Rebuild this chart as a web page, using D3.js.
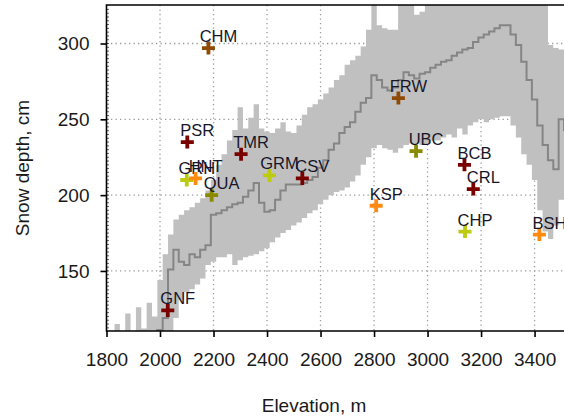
<!DOCTYPE html>
<html lang="en">
<head>
<meta charset="UTF-8">
<title>Snow depth vs elevation</title>
<style>
  body { margin: 0; background: #fff; }
  svg { display: block; font-family: Arial, "Liberation Sans", sans-serif; }
</style>
</head>
<body>
<svg width="564" height="420"></svg>
<script src="https://d3js.org/d3.v7.min.js"></script>
<script>
// elevation bands (m) and snow depth statistics (cm)
var elevation = [1820, 1840, 1860, 1880, 1900, 1920, 1940, 1960, 1980, 2000,
    2020, 2040, 2060, 2080, 2100, 2120, 2140, 2160, 2180, 2200,
    2220, 2240, 2260, 2280, 2300, 2320, 2340, 2360, 2380, 2400,
    2420, 2440, 2460, 2480, 2500, 2520, 2540, 2560, 2580, 2600,
    2620, 2640, 2660, 2680, 2700, 2720, 2740, 2760, 2780, 2800,
    2820, 2840, 2860, 2880, 2900, 2920, 2940, 2960, 2980, 3000,
    3020, 3040, 3060, 3080, 3100, 3120, 3140, 3160, 3180, 3200,
    3220, 3240, 3260, 3280, 3300, 3320, 3340, 3360, 3380, 3400,
    3420, 3440, 3460, 3480, 3500, 3520];

var depthMax = [108, 115, 108, 122, 110, 126, 112, 129, 120, 144,
    161, 174, 184, 187, 190, 192, 195, 198, 203, 210,
    220, 227, 236, 243, 258, 244, 251, 260, 244, 242,
    241, 244, 248, 242, 241, 246, 253, 258, 260, 263,
    267, 271, 276, 279, 286, 289, 292, 298, 309, 335,
    312, 310, 309, 309, 335, 335, 326, 319, 321, 335,
    335, 335, 335, 335, 335, 335, 335, 335, 335, 335,
    335, 335, 335, 335, 335, 335, 335, 335, 335, 335,
    335, 335, 299, 297, 296, 296];

var depthMin = [100, 100, 100, 100, 100, 100, 100, 100, 100, 100,
    100, 108, 119, 131, 136, 138, 141, 145, 154, 156,
    159, 159, 161, 154, 157, 159, 160, 161, 163, 165,
    169, 172, 175, 177, 180, 182, 185, 188, 190, 194,
    197, 200, 202, 203, 205, 209, 213, 220, 225, 231,
    233, 231, 230, 228, 231, 233, 234, 234, 233, 234,
    236, 236, 238, 240, 238, 244, 240, 246, 248, 250,
    248, 250, 251, 252, 252, 246, 238, 227, 220, 210,
    190, 176, 171, 180, 197, 197];

var depthMedian = [104, 104, 104, 104, 104, 104, 104, 104, 108, 111,
    119, 151, 164, 156, 154, 161, 159, 164, 167, 187,
    188, 190, 192, 194, 195, 199, 203, 208, 195, 189,
    190, 197, 203, 207, 207, 207, 208, 210, 212, 218,
    223, 230, 234, 241, 245, 248, 255, 261, 264, 279,
    276, 271, 269, 271, 276, 281, 279, 277, 280, 281,
    284, 286, 288, 289, 292, 294, 296, 297, 301, 304,
    306, 308, 310, 312, 312, 306, 299, 288, 276, 263,
    246, 233, 223, 217, 250, 243];

// snow survey sites
var stations = ["CHM", "PSR", "GRH", "HNT", "QUA", "TMR", "GRM", "CSV",
    "GNF", "FRW", "UBC", "KSP", "BCB", "CRL", "CHP", "BSH"];
var stationElev = [2181, 2102, 2100, 2133, 2193, 2303, 2409, 2532,
    2029, 2891, 2957, 2808, 3138, 3171, 3140, 3418];
var stationDepth = [297, 235, 210, 211, 200, 227, 213, 211,
    124, 264, 229, 193, 220, 204, 176, 174];
var stationGroup = ["b", "r", "y", "o", "g", "r", "y", "r",
    "r", "b", "g", "o", "r", "r", "y", "o"];

var xTicks = [1800, 2000, 2200, 2400, 2600, 2800, 3000, 3200, 3400];
var yTicks = [150, 200, 250, 300];

function drawChart() {
    var svg = d3.select("svg"),
        mLeft = 106.5, mTop = 5, mBottom = 331, mRight = 564;

    var x = d3.scaleLinear().domain([1800, 3510]).range([mLeft, mRight]);
    var y = d3.scaleLinear().domain([110.4, 325.4]).range([mBottom, mTop]);

    var color = d3.scaleOrdinal()
        .domain(["r", "b", "o", "y", "g"])
        .range(["#7a0000", "#8f4a06", "#ff8a12", "#bccb10", "#8a8a00"]);

    var band = elevation.map(function (e, i) {
        return { e: e, hi: depthMax[i], lo: depthMin[i], med: depthMedian[i] };
    });

    svg.append("clipPath").attr("id", "plot")
        .append("rect")
        .attr("x", mLeft).attr("y", mTop)
        .attr("width", mRight - mLeft).attr("height", mBottom - mTop);

    // dotted grid
    var grid = svg.append("g")
        .attr("stroke", "#9a9a9a")
        .attr("stroke-width", 1.3)
        .attr("stroke-dasharray", "1.3,3.2");

    grid.selectAll(".gx")
        .data(xTicks.slice(1)).enter()
        .append("line")
        .attr("x1", d => x(d)).attr("x2", d => x(d))
        .attr("y1", mTop).attr("y2", mBottom);

    grid.selectAll(".gy")
        .data(yTicks).enter()
        .append("line")
        .attr("x1", mLeft).attr("x2", mRight)
        .attr("y1", d => y(d)).attr("y2", d => y(d));

    var plot = svg.append("g").attr("clip-path", "url(#plot)");

    var area = d3.area()
        .curve(d3.curveStep)
        .x(d => x(d.e))
        .y0(d => y(d.lo))
        .y1(d => y(d.hi));

    plot.append("path")
        .datum(band)
        .attr("fill", "#c0c0c0")
        .attr("d", area);

    var line = d3.line()
        .curve(d3.curveStep)
        .x(d => x(d.e))
        .y(d => y(d.med));

    plot.append("path")
        .datum(band)
        .attr("fill", "none")
        .attr("stroke", "#858585")
        .attr("stroke-width", 2)
        .attr("d", line);

    // stations
    var site = svg.selectAll(".site")
        .data(stations).enter()
        .append("g")
        .attr("class", "site")
        .attr("transform", (d, i) => "translate(" + x(stationElev[i]) + "," + y(stationDepth[i]) + ")");

    site.append("path")
        .attr("d", "M-6.5,0H6.5M0,-6.5V6.5")
        .attr("stroke", (d, i) => color(stationGroup[i]))
        .attr("stroke-width", 3.8)
        .attr("fill", "none");

    site.append("text")
        .attr("x", 10)
        .attr("y", -6)
        .attr("text-anchor", "middle")
        .attr("font-size", 16.5)
        .attr("fill", "#16162a")
        .text(d => d);

    // axes
    var xAxis = svg.append("g")
        .attr("transform", "translate(0," + mBottom + ")")
        .call(d3.axisBottom(x).tickValues(xTicks).tickFormat(d3.format("d"))
            .tickSize(6).tickSizeOuter(0).tickPadding(15.5));

    var yAxis = svg.append("g")
        .attr("transform", "translate(" + mLeft + ",0)")
        .call(d3.axisLeft(y).tickValues(yTicks).tickFormat(d3.format("d"))
            .tickSize(6).tickSizeOuter(0).tickPadding(11));

    [xAxis, yAxis].forEach(function (a) {
        a.select(".domain").remove();
        a.selectAll("line").attr("stroke", "#000").attr("stroke-width", 1.6);
        a.selectAll("text").attr("font-size", 19).attr("fill", "#1a1a1a")
            .attr("font-family", "Arial, 'Liberation Sans', sans-serif");
    });

    // small inner ticks on the depth axis
    svg.append("g")
        .selectAll("line")
        .data(d3.range(112.5, 325, 2.5)).enter()
        .append("line")
        .attr("x1", mLeft).attr("x2", mLeft + 2.5)
        .attr("y1", d => y(d)).attr("y2", d => y(d))
        .attr("stroke", "#333").attr("stroke-width", 0.8);

    // frame
    svg.append("path")
        .attr("d", "M" + mRight + "," + mTop + "H" + mLeft + "V" + mBottom + "H" + mRight)
        .attr("fill", "none")
        .attr("stroke", "#000")
        .attr("stroke-width", 1.6);

    svg.append("text")
        .attr("x", 314).attr("y", 412)
        .attr("text-anchor", "middle")
        .attr("font-size", 19).attr("fill", "#1a1a1a")
        .text("Elevation, m");

    svg.append("text")
        .attr("transform", "translate(29,168) rotate(-90)")
        .attr("text-anchor", "middle")
        .attr("font-size", 19).attr("fill", "#1a1a1a")
        .text("Snow depth, cm");
}

drawChart();
</script>
</body>
</html>
